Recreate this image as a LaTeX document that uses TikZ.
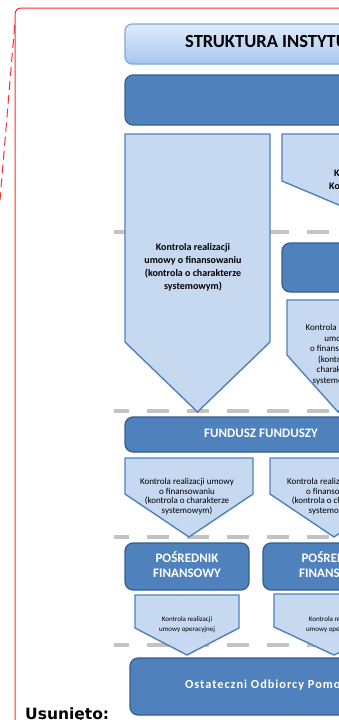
\documentclass[tikz,border=0pt]{standalone}
\usepackage{fontspec}
\setmainfont{Carlito}
\newfontfamily\dejavu{DejaVu Sans}
\definecolor{dkblue}{HTML}{4F81BD}
\definecolor{dkborder}{HTML}{385D8A}
\definecolor{ltblue}{HTML}{C6D9F1}
\definecolor{ltborder}{HTML}{4F81BD}
\definecolor{sepgray}{HTML}{C3C3C3}
\definecolor{ttop}{HTML}{E0ECFC}
\definecolor{tbot}{HTML}{A6C6F0}
\definecolor{tborder}{HTML}{7FA8DC}
\definecolor{redline}{HTML}{FF2A2A}
\begin{document}
\begin{tikzpicture}[x=1pt,y=-1pt,
  dark/.style={fill=dkblue, draw=dkborder, line width=1.2pt, rounded corners=8pt},
  light/.style={fill=ltblue, draw=ltborder, line width=1.4pt, line join=miter},
  sepline/.style={draw=sepgray, line width=4.5pt, dash pattern=on 22pt off 18pt, dash phase=7pt},
  lbl/.style={inner sep=0pt, align=center},
  wlbl/.style={lbl, text=white, font=\fontsize{13}{15}\selectfont\bfseries},
  smalltxt/.style={lbl, font=\fontsize{9}{9.7}\selectfont},
  tinytxt/.style={lbl, font=\fontsize{7}{10}\selectfont}]
\useasboundingbox (0,0) rectangle (339,720);
\clip (0,0) rectangle (339,720);
% red revision frame
\draw[redline, line width=1pt, rounded corners=6pt] (15,730) -- (15,8) -- (360,8);
\draw[redline, line width=1pt, dash pattern=on 9pt off 5pt] (14.7,25) -- (0,200);
% separator lines
\path[sepline] (114,232) -- (420,232);
\path[sepline] (114,411) -- (420,411);
\path[sepline] (114,537) -- (420,537);
\path[sepline] (114,645) -- (420,645);
% title
\draw[top color=ttop, bottom color=tbot, draw=tborder, line width=1.2pt, rounded corners=7pt] (125,24) rectangle (440,64);
\node[inner sep=0pt, anchor=base west, font=\fontsize{18.5}{21}\selectfont\bfseries] (title) at (185,47.5) {STRUKTURA INSTYTU};
% top dark box
\draw[dark] (125,75) rectangle (440,125);
% left big arrow
\draw[light] (125,134) -- (270,134) -- (270,342) -- (197.5,412) -- (125,342) -- cycle;
\node[lbl, font=\fontsize{10}{13}\selectfont\bfseries] (t3) at (193,267) {Kontrola realizacji\\umowy o finansowaniu\\(kontrola o charakterze\\systemowym)};
% right top arrow
\draw[light] (282,134) -- (460,134) -- (460,181) -- (371,218.5) -- (282,181) -- cycle;
\node[inner sep=0pt, anchor=base west, font=\fontsize{10}{13}\selectfont\bfseries] (t4a) at (334,176) {K};
\node[inner sep=0pt, anchor=base west, font=\fontsize{10}{13}\selectfont\bfseries] (t4b) at (329,189) {Ko};
% right middle dark box
\draw[dark] (282,243) rectangle (440,292);
% right middle arrow
\draw[light] (287,300) -- (389,300) -- (389,355) -- (338,412) -- (287,355) -- cycle;
\node[lbl, font=\fontsize{9}{10.6}\selectfont] (t6) at (338,354.5) {Kontrola realizacji\\umowy\\o finansowaniu\\(kontrola o\\charakterze\\systemowym)};
% fundusz funduszy
\draw[dark] (125,417) rectangle (440,452);
\node[wlbl] (ff) at (261,433) {FUNDUSZ FUNDUSZY};
% arrows under FF
\draw[light] (125,458) -- (253,458) -- (253,494) -- (189,537) -- (125,494) -- cycle;
\node[smalltxt] (t8a) at (187,496.5) {Kontrola realizacji umowy\\o finansowaniu\\(kontrola o charakterze\\systemowym)};
\draw[light] (270,458) -- (398,458) -- (398,494) -- (334,537) -- (270,494) -- cycle;
\node[smalltxt] (t8b) at (334,496.5) {Kontrola realizacji umowy\\o finansowaniu\\(kontrola o charakterze\\systemowym)};
% posrednik finansowy
\draw[dark] (125,543) rectangle (249,590);
\node[wlbl] (pf1) at (187,564.5) {POŚREDNIK\\FINANSOWY};
\draw[dark] (263,543) rectangle (403,590);
\node[wlbl] (pf2) at (333,564.5) {POŚREDNIK\\FINANSOWY};
% small arrows
\draw[light] (135,595) -- (239,595) -- (239,628) -- (187,655) -- (135,628) -- cycle;
\node[tinytxt] (t10a) at (187,625) {Kontrola realizacji\\umowy operacyjnej};
\draw[light] (274,594) -- (394,594) -- (394,627) -- (334,655) -- (274,627) -- cycle;
\node[tinytxt] (t10b) at (334,625) {Kontrola realizacji\\umowy operacyjnej};
% ostateczni odbiorcy
\draw[dark] (130,658) rectangle (440,715);
\node[inner sep=0pt, anchor=west, text=white, font=\fontsize{12.3}{14}\selectfont\bfseries\addfontfeatures{LetterSpace=8}] (oo) at (185,685) {Ostateczni Odbiorcy Pomocy};
% deleted marker
\node[inner sep=0pt, anchor=base west, font=\dejavu\fontsize{15.5}{18}\selectfont\bfseries] (us) at (25,719.5) {Usunięto:};
\end{tikzpicture}
\end{document}
